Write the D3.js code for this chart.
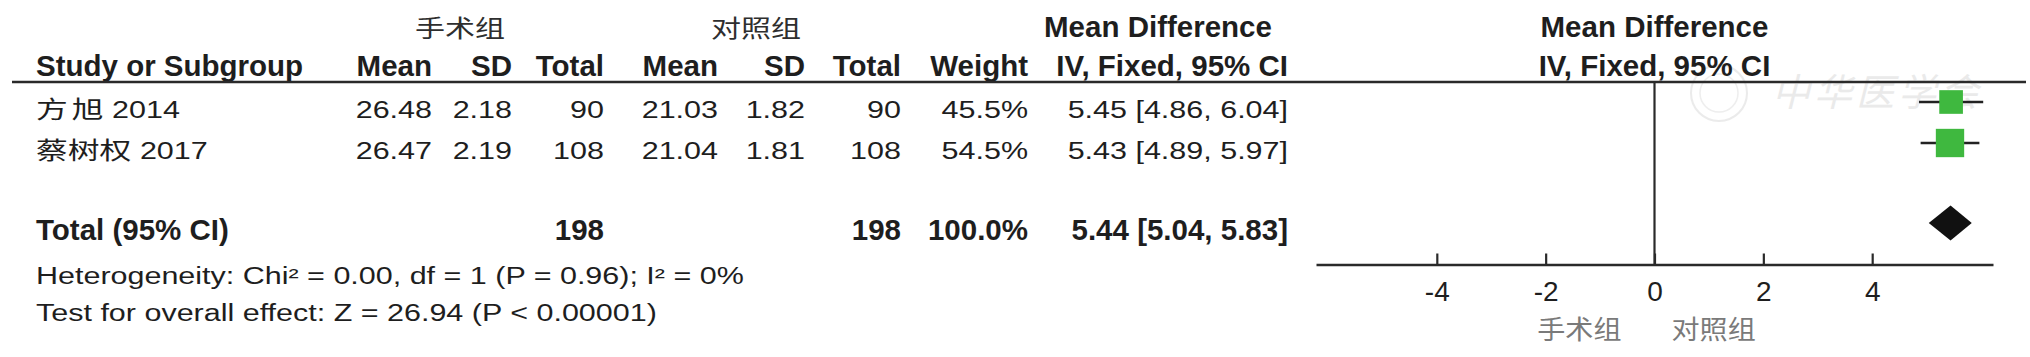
<!DOCTYPE html>
<html>
<head>
<meta charset="utf-8">
<script src="https://cdn.jsdelivr.net/npm/d3@7"></script>
<style>
  html, body { margin: 0; padding: 0; background: #ffffff; }
  svg { display: block; }
  text { font-family: "Liberation Sans", Arial, "Noto Sans CJK SC", sans-serif; fill: #1e1e1e; }
  .cjk { font-family: "Noto Sans CJK SC", "Noto Sans CJK TC", sans-serif; }
</style>
</head>
<body>
<script>
// ---------------- data ----------------
const studies      = ["方旭 2014", "蔡树权 2017"];
const expMean      = [26.48, 26.47];
const expSD        = [2.18, 2.19];
const expTotal     = [90, 108];
const ctrlMean     = [21.03, 21.04];
const ctrlSD       = [1.82, 1.81];
const ctrlTotal    = [90, 108];
const weights      = [45.5, 54.5];
const md           = [5.45, 5.43];
const mdLow        = [4.86, 4.89];
const mdHigh       = [6.04, 5.97];
const totalLabel   = "Total (95% CI)";
const totalExpN    = 198;
const totalCtrlN   = 198;
const totalWeight  = 100.0;
const totalMD      = 5.44;
const totalLow     = 5.04;
const totalHigh    = 5.83;
const groupLabels  = ["手术组", "对照组"];
const colHeaders   = ["Study or Subgroup", "Mean", "SD", "Total", "Mean", "SD", "Total", "Weight", "IV, Fixed, 95% CI"];
const effectTitle  = ["Mean Difference", "IV, Fixed, 95% CI"];
const hetText      = "Heterogeneity: Chi² = 0.00, df = 1 (P = 0.96); I² = 0%";
const overallText  = "Test for overall effect: Z = 26.94 (P < 0.00001)";
const axisDomain   = [-6.22, 6.22];
const axisTicks    = [-4, -2, 0, 2, 4];
const favourLabels = ["手术组", "对照组"];
const watermark    = "中华医学会";

// ---------------- layout ----------------
const W = 2030, H = 357;
const SX = 1.326;          // horizontal stretch of regular text
const REG = 23;            // regular font size
const BOLD = 29.5;         // bold font size
const ink = "#1e1e1e";

const svg = d3.select("body").append("svg")
  .attr("width", W).attr("height", H)
  .attr("viewBox", `0 0 ${W} ${H}`);

// column right edges
const colX = { study: 36, expMean: 432, expSD: 512, expTotal: 604, ctrlMean: 718, ctrlSD: 805, ctrlTotal: 901, weight: 1028, ci: 1288 };

// row positions (marker centers) via a linear scale on row index
const rowY = d3.scaleLinear().domain([0, 1]).range([102, 143]);
const textOffset = 16;

// forest x scale
const x = d3.scaleLinear().domain(axisDomain).range([1316, 1993]);
const sizeScale = d3.scaleLinear().domain([0, 100]).range([0, 52]);

function regText(str, xx, yy, anchor, size) {
  return svg.append("text")
    .attr("transform", `translate(${xx},${yy}) scale(${SX},1)`)
    .attr("text-anchor", anchor || "start")
    .attr("font-size", size || REG)
    .text(str);
}
function boldText(str, xx, yy, anchor, size) {
  return svg.append("text")
    .attr("x", xx).attr("y", yy)
    .attr("text-anchor", anchor || "start")
    .attr("font-weight", "bold")
    .attr("font-size", size || BOLD)
    .text(str);
}

// ---------------- watermark ----------------
const wm = svg.append("g").attr("opacity", 0.5);
wm.append("circle").attr("cx", 1719).attr("cy", 93).attr("r", 28)
  .attr("fill", "none").attr("stroke", "#d8d8d8").attr("stroke-width", 2);
wm.append("circle").attr("cx", 1719).attr("cy", 93).attr("r", 19)
  .attr("fill", "none").attr("stroke", "#dedede").attr("stroke-width", 1.5);
wm.append("text").attr("class", "cjk")
  .attr("x", 1772).attr("y", 106)
  .attr("font-size", 38).attr("font-style", "italic")
  .attr("letter-spacing", 4)
  .style("fill", "#d6d6d6")
  .text(watermark);

// ---------------- headers ----------------
const groupCenters = [460, 756];
groupLabels.forEach((g, i) => {
  svg.append("text").attr("class", "cjk")
    .attr("transform", `translate(${groupCenters[i]},37) scale(1.25,1)`)
    .attr("text-anchor", "middle")
    .attr("font-size", 24)
    .style("fill", "#2e2e2e")
    .text(g);
});
boldText(effectTitle[0], 1158, 37, "middle");
boldText(effectTitle[0], x(0), 37, "middle");
boldText(effectTitle[1], x(0), 76, "middle");

const headerPos = [
  [colX.study, "start"], [colX.expMean, "end"], [colX.expSD, "end"], [colX.expTotal, "end"],
  [colX.ctrlMean, "end"], [colX.ctrlSD, "end"], [colX.ctrlTotal, "end"], [colX.weight, "end"], [colX.ci, "end"]
];
colHeaders.forEach((h, i) => boldText(h, headerPos[i][0], 76, headerPos[i][1]));

// header rule
svg.append("line").attr("x1", 12).attr("x2", 2026).attr("y1", 82).attr("y2", 82)
  .attr("stroke", "#2a2a2a").attr("stroke-width", 2.6);

// ---------------- study rows ----------------
const f2 = d3.format(".2f");
studies.forEach((s, i) => {
  const yb = rowY(i) + textOffset;
  const sp = s.lastIndexOf(" ");
  const name = s.slice(0, sp);
  const t = svg.append("text")
    .attr("transform", `translate(${colX.study},${yb}) scale(${SX},1)`)
    .attr("font-size", REG);
  // two-character names are spaced out slightly as in the source figure
  Array.from(name).forEach((ch, k) => {
    t.append("tspan").attr("class", "cjk").attr("font-size", 24)
      .attr("dx", (k > 0 && name.length === 2) ? 3 : 0)
      .text(ch);
  });
  t.append("tspan").text(s.slice(sp));
  regText(f2(expMean[i]), colX.expMean, yb, "end");
  regText(f2(expSD[i]), colX.expSD, yb, "end");
  regText(String(expTotal[i]), colX.expTotal, yb, "end");
  regText(f2(ctrlMean[i]), colX.ctrlMean, yb, "end");
  regText(f2(ctrlSD[i]), colX.ctrlSD, yb, "end");
  regText(String(ctrlTotal[i]), colX.ctrlTotal, yb, "end");
  regText(d3.format(".1f")(weights[i]) + "%", colX.weight, yb, "end");
  regText(`${f2(md[i])} [${f2(mdLow[i])}, ${f2(mdHigh[i])}]`, colX.ci, yb, "end");
});

// ---------------- total row ----------------
const yTot = 223;
const ybTot = 240;
boldText(totalLabel, colX.study, ybTot, "start");
boldText(String(totalExpN), colX.expTotal, ybTot, "end");
boldText(String(totalCtrlN), colX.ctrlTotal, ybTot, "end");
boldText(d3.format(".1f")(totalWeight) + "%", colX.weight, ybTot, "end");
boldText(`${f2(totalMD)} [${f2(totalLow)}, ${f2(totalHigh)}]`, colX.ci, ybTot, "end");

regText(hetText, colX.study, 284, "start");
regText(overallText, colX.study, 321, "start");

// ---------------- forest plot ----------------
const axisY = 264.5;
const plot = svg.append("g");

// zero line
plot.append("line")
  .attr("x1", x(0)).attr("x2", x(0)).attr("y1", 82).attr("y2", axisY)
  .attr("stroke", "#2a2a2a").attr("stroke-width", 2.2);

// CI lines
plot.selectAll("line.ci").data(md).join("line").attr("class", "ci")
  .attr("x1", (d, i) => x(mdLow[i])).attr("x2", (d, i) => x(mdHigh[i]))
  .attr("y1", (d, i) => rowY(i)).attr("y2", (d, i) => rowY(i))
  .attr("stroke", "#222").attr("stroke-width", 2.4);

// squares
plot.selectAll("rect.sq").data(md).join("rect").attr("class", "sq")
  .attr("x", (d, i) => x(d) - sizeScale(weights[i]) / 2)
  .attr("y", (d, i) => rowY(i) - sizeScale(weights[i]) / 2)
  .attr("width", (d, i) => sizeScale(weights[i]))
  .attr("height", (d, i) => sizeScale(weights[i]))
  .attr("fill", "#3fb83f");

// diamond
const dh = 17.5;
plot.append("path")
  .attr("d", `M${x(totalLow)},${yTot} L${x(totalMD)},${yTot - dh} L${x(totalHigh)},${yTot} L${x(totalMD)},${yTot + dh} Z`)
  .attr("fill", "#111");

// axis
const axis = d3.axisBottom(x).tickValues(axisTicks).tickSizeInner(-11).tickSizeOuter(0).tickPadding(17)
  .tickFormat(d => d < 0 ? "-" + Math.abs(d) : String(d));
const ag = plot.append("g").attr("transform", `translate(0,${axisY})`).call(axis);
ag.select(".domain").attr("stroke", "#2a2a2a").attr("stroke-width", 2.6);
ag.selectAll(".tick line").attr("stroke", "#2a2a2a").attr("stroke-width", 2.2);
ag.selectAll(".tick text")
  .attr("font-family", "'Liberation Sans', Arial, sans-serif")
  .attr("font-size", 28).style("fill", ink);

// favour labels
svg.append("text").attr("class", "cjk")
  .attr("transform", `translate(${x(0) - 33},339) scale(1.08,1)`)
  .attr("text-anchor", "end").attr("font-size", 26).style("fill", "#7a7a7a")
  .text(favourLabels[0]);
svg.append("text").attr("class", "cjk")
  .attr("transform", `translate(${x(0) + 17},339) scale(1.08,1)`)
  .attr("text-anchor", "start").attr("font-size", 26).style("fill", "#7a7a7a")
  .text(favourLabels[1]);
</script>
</body>
</html>
